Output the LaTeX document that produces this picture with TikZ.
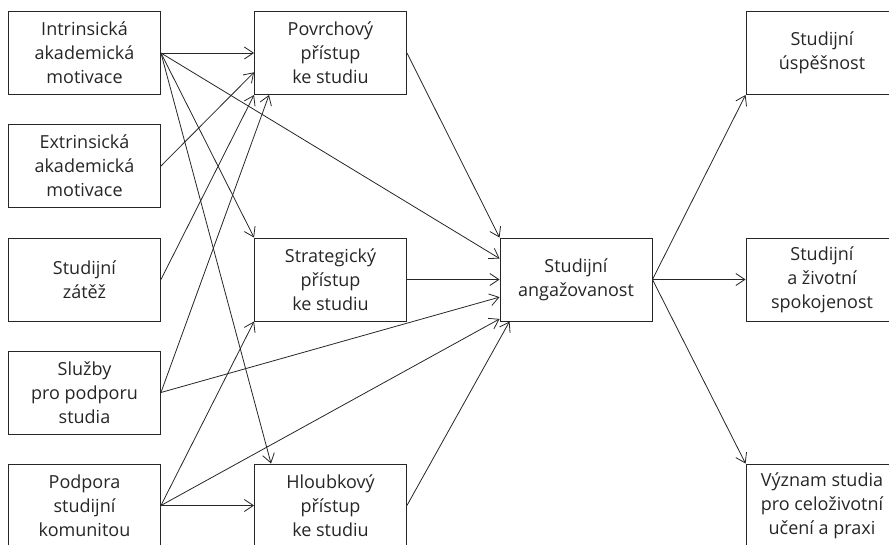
\documentclass[tikz,border=0pt]{standalone}
\usepackage{fontspec}
\setmainfont{Open Sans}
\usetikzlibrary{arrows.meta,calc}
\begin{document}
\begin{tikzpicture}[x=1pt,y=-1pt,
  box/.style={draw=black!85, line width=0.9pt, minimum width=152pt, minimum height=83pt,
    align=center, inner sep=0pt, text=black!85, font=\fontsize{18}{24}\selectfont},
  link/.style={draw=black!85, line width=0.8pt, -{Straight Barb[length=9pt,width=12pt]}}]
\useasboundingbox (0,0) rectangle (889,545);

% input factors
\node[box] (L1) at (84.5,53)    {Intrinsická\\akademická\\motivace};
\node[box] (L2) at (84.5,166)   {Extrinsická\\akademická\\motivace};
\node[box] (L3) at (84.5,279.5) {Studijní\\zátěž};
\node[box] (L4) at (84.5,392.5) {Služby\\pro podporu\\studia};
\node[box] (L5) at (84.5,505.5) {Podpora\\studijní\\komunitou};

% approaches to study
\node[box] (P) at (330.5,53)    {Povrchový\\přístup\\ke studiu};
\node[box] (S) at (330.5,279.5) {Strategický\\přístup\\ke studiu};
\node[box] (H) at (330.5,505.5) {Hloubkový\\přístup\\ke studiu};

% engagement
\node[box] (C) at (576,279.5) {Studijní\\angažovanost};

% outcomes
\node[box] (R1) at (822,53)    {Studijní\\úspěšnost};
\node[box] (R2) at (822,279.5) {Studijní\\a životní\\spokojenost};
\node[box] (R3) at (822,505.5) {Význam studia\\pro celoživotní\\učení a praxi};

% connectors from the input factors
\draw[link] (L1.east) -- (P.west);
\draw[link] (L1.east) -- ($(C.north west)!0.25!(C.south west)$);
\draw[link] (L1.east) -- (S.north west);
\draw[link] (L1.east) -- ($(H.north west)+(17,0)$);
\draw[link] (L2.east) -- ($(P.north west)!0.73!(P.south west)$);
\draw[link] (L3.east) -- (P.south west);
\draw[link] (L4.east) -- ($(P.south west)+(15,0)$);
\draw[link] (L4.east) -- ($(C.north west)!0.71!(C.south west)$);
\draw[link] (L5.east) -- (H.west);
\draw[link] (L5.east) -- (S.south west);
\draw[link] (L5.east) -- ($(C.north west)!0.97!(C.south west)$);

% connectors from the approaches
\draw[link] (P.east) -- (C.north west);
\draw[link] (S.east) -- (C.west);
\draw[link] (H.east) -- ($(C.south west)+(10,0)$);

% connectors to the outcomes
\draw[link] (C.east) -- (R1.south west);
\draw[link] (C.east) -- (R2.west);
\draw[link] (C.east) -- (R3.north west);
\end{tikzpicture}
\end{document}
